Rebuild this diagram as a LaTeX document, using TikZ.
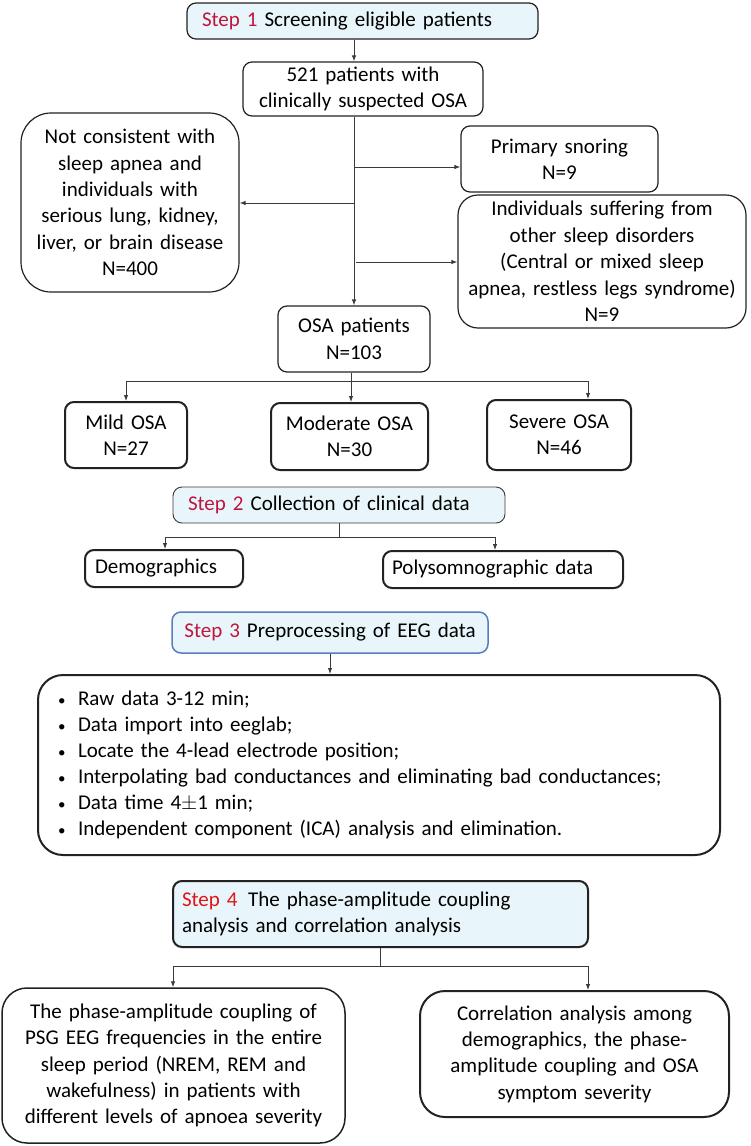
\documentclass[tikz,border=0pt]{standalone}
\usepackage{fontspec}
\setmainfont{Carlito}
\usetikzlibrary{arrows.meta}
\definecolor{stepred}{HTML}{C0163E}
\definecolor{steprubin}{HTML}{E01515}
\definecolor{stepfill}{HTML}{E8F5FA}
\definecolor{boxline}{HTML}{222222}
\definecolor{linegray}{HTML}{3A3A3A}
\definecolor{stepblue}{HTML}{5B7DBE}
\newcommand\bul{\makebox[20pt][l]{\fontsize{15}{15}\selectfont\textbullet}}
\tikzset{
  box/.style={draw=boxline, line width=1.2pt, rounded corners=9pt, align=center,
    inner sep=0pt, font=\fontsize{21}{26.4}\selectfont},
  boldbox/.style={box, line width=2pt},
  stepbox/.style={box, fill=stepfill},
  arr/.style={-{Latex[length=6pt,width=4.5pt]}, line width=0.9pt, draw=linegray},
  rule/.style={line width=0.9pt, draw=linegray},
}
\begin{document}
\begin{tikzpicture}[x=1pt,y=-1pt]
  \fill[white] (0,0) rectangle (750,1146);
  \useasboundingbox (0,0) rectangle (750,1146);
  % step 1
  \node[stepbox, minimum width=351, minimum height=36, text width=321, align=left]
    (step1) at (362.5,21) {{\color{stepred}Step 1} Screening eligible patients};
  \node[box, minimum width=240, minimum height=54, text width=230] (pat521) at (363,89)
    {521 patients with\\clinically suspected OSA};
  \node[box, rounded corners=30pt, minimum width=218, minimum height=179, text width=212]
    (excl) at (130,202.5) {Not consistent with\\sleep apnea and\\individuals with\\serious lung, kidney,\\liver, or brain disease\\N=400};
  \node[box, minimum width=197, minimum height=66, text width=190] (snore) at (559.5,159)
    {Primary snoring\\N=9};
  \node[box, rounded corners=20pt, minimum width=288, minimum height=133, text width=284]
    (other) at (602,261.5) {Individuals suffering from\\other sleep disorders\\(Central or mixed sleep\\apnea, restless legs syndrome)\\N=9};
  \node[box, minimum width=152, minimum height=66, text width=146] (osa) at (354,339)
    {OSA patients\\N=103};
  \node[boldbox, minimum width=122, minimum height=66, text width=116] (mild) at (126,435)
    {Mild OSA\\N=27};
  \node[boldbox, minimum width=157, minimum height=67, text width=152] (moderate) at (349.5,436.5)
    {Moderate OSA\\N=30};
  \node[boldbox, minimum width=144, minimum height=70, text width=137] (severe) at (559,435)
    {Severe OSA\\N=46};
  \coordinate (trunk) at (354,116);
  \coordinate (b1) at (354,167);
  \coordinate (b2) at (354,203);
  \coordinate (b3) at (356,262);
  \draw[arr] (step1.south -| trunk) -- (pat521.north -| trunk);
  \draw[arr] (pat521.south -| trunk) -- (osa.north -| trunk);
  \draw[arr] (b1) -- (b1 -| snore.west);
  \draw[arr] (b2) -- (b2 -| excl.east);
  \draw[arr] (b3) -- (b3 -| other.west);
  \coordinate (s1) at (351,381);
  \draw[rule] (osa.south -| s1) -- (s1);
  \draw[rule] (126,381) -- (588,381);
  \draw[arr] (126,381) -- (mild.north -| 126,0);
  \draw[arr] (s1) -- (moderate.north -| s1);
  \draw[arr] (588,381) -- (severe.north -| 588,0);
  % step 2
  \node[stepbox, line width=0.9pt, draw=linegray, minimum width=332, minimum height=36,
    text width=302, align=left] (step2) at (339,505)
    {{\color{stepred}Step 2} Collection of clinical data};
  \node[boldbox, minimum width=158, minimum height=37, text width=138, align=left]
    (demo) at (164,568.5) {Demographics};
  \node[boldbox, minimum width=240, minimum height=37, text width=222, align=left]
    (poly) at (503,569.5) {Polysomnographic data};
  \coordinate (s2) at (339,537);
  \draw[rule] (step2.south -| s2) -- (s2);
  \draw[rule] (165,537) -- (495,537);
  \draw[arr] (165,537) -- (demo.north -| 165,0);
  \draw[arr] (495,537) -- (poly.north -| 495,0);
  % step 3
  \node[stepbox, draw=stepblue, line width=1.5pt, minimum width=316, minimum height=41,
    text width=310] (step3) at (330,632.5)
    {{\color{stepred}Step 3} Preprocessing of EEG data};
  \node[boldbox, rounded corners=25pt, minimum width=682, minimum height=180,
    text width=642, align=left, font=\fontsize{21}{26}\selectfont] (eeg) at (379,765)
    {\bul Raw data 3-12 min;\\
     \bul Data import into eeglab;\\
     \bul Locate the 4-lead electrode position;\\
     \bul Interpolating bad conductances and eliminating bad conductances;\\
     \bul Data time 4$\pm$1 min;\\
     \bul Independent component (ICA) analysis and elimination.};
  \draw[arr] (step3.south -| 330,0) -- (eeg.north -| 330,0);
  % step 4
  \node[stepbox, line width=2pt, minimum width=415, minimum height=66, text width=397,
    align=left] (step4) at (380.5,914)
    {{\color{steprubin}Step 4}\enspace The phase-amplitude coupling\\analysis and correlation analysis};
  \node[box, line width=1.5pt, rounded corners=25pt, minimum width=343, minimum height=155,
    text width=337] (pac) at (173.5,1065.5)
    {The phase-amplitude coupling of\\PSG EEG frequencies in the entire\\sleep period (NREM, REM and\\wakefulness) in patients with\\different levels of apnoea severity};
  \node[boldbox, rounded corners=25pt, minimum width=309, minimum height=126,
    text width=300] (corr) at (574.5,1054)
    {Correlation analysis among\\demographics, the phase-\\amplitude coupling and OSA\\symptom severity};
  \coordinate (s4) at (380,966);
  \draw[rule] (step4.south -| s4) -- (s4);
  \draw[rule] (173,966) -- (588,966);
  \draw[arr] (173,966) -- (pac.north -| 173,0);
  \draw[arr] (588,966) -- (corr.north -| 588,0);
\end{tikzpicture}
\end{document}
